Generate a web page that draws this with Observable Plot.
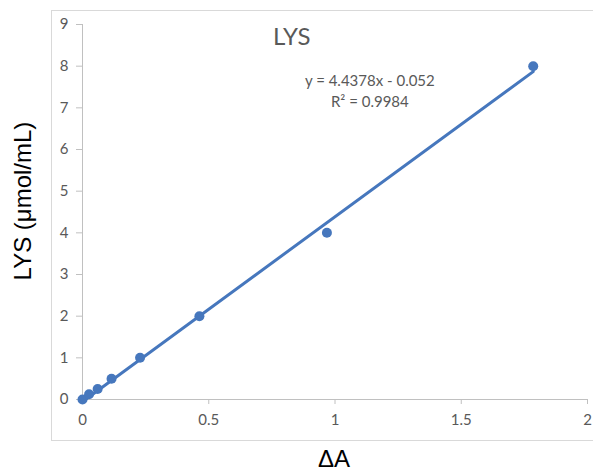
<!DOCTYPE html>
<html><head><meta charset="utf-8">
<script src="https://cdn.jsdelivr.net/npm/d3@7"></script>
<script src="https://cdn.jsdelivr.net/npm/@observablehq/plot@0.6"></script>
<style>
body{margin:0;background:#fff;}
#wrap{position:relative;width:593px;height:474px;overflow:hidden;}
#box{position:absolute;left:51px;top:10px;width:560px;height:431px;border:1px solid #d9d9d9;box-sizing:border-box;}
#ylab{position:absolute;left:23px;top:201px;transform:translate(-50%,-50%) rotate(-90deg);font:24px "Liberation Sans",Arial,sans-serif;line-height:24px;color:#000;white-space:nowrap;}
#xlab{position:absolute;left:334px;top:447px;transform:translateX(-50%);font:24px "Liberation Sans",Arial,sans-serif;line-height:24px;color:#000;white-space:nowrap;}
#chart{position:absolute;left:0;top:0;}
</style></head>
<body>
<div id="wrap"><div id="box"></div><div id="chart"></div>
<div id="ylab">LYS (μmol/mL)</div><div id="xlab">ΔA</div></div>
<script>
const deltaA = [0, 0.026, 0.06, 0.115, 0.228, 0.463, 0.968, 1.785];
const lys = [0, 0.125, 0.25, 0.5, 1, 2, 4, 8];
const xTicks = [0, 0.5, 1, 1.5, 2];
const yTicks = [0, 1, 2, 3, 4, 5, 6, 7, 8, 9];
const slope = 4.4378, intercept = -0.052;
const title = "LYS";
const eqText = ["y = 4.4378x - 0.052", "R² = 0.9984"];

const pts = deltaA.map((x, i) => ({x, y: lys[i]}));
const xr = d3.extent(deltaA);
const trend = xr.map(x => ({x, y: slope * x + intercept}));

const blue = "#4677bd";
const gray = "#595959";
const fontF = "Lato, 'Open Sans', sans-serif";

const chart = Plot.plot({
  width: 593, height: 474,
  marginLeft: 82, marginRight: 6, marginTop: 24, marginBottom: 75,
  x: {domain: [0, 2]},
  y: {domain: [0, 9]},
  style: {fontFamily: fontF, background: "transparent"},
  marks: [
    Plot.ruleY([0], {stroke: "#c0c0c0", strokeWidth: 1}),
    Plot.ruleX([0], {stroke: "#c0c0c0", strokeWidth: 1}),
    Plot.axisX({ticks: xTicks, tickFormat: d => String(d), tickSize: 5, tickPadding: 10, stroke: "#c0c0c0", color: gray, fontSize: 15, label: null}),
    Plot.axisY({ticks: yTicks, tickFormat: d => String(d), tickSize: 6, tickPadding: 8, stroke: "#c0c0c0", color: gray, fontSize: 15, label: null}),
    Plot.line(trend, {x: "x", y: "y", stroke: blue, strokeWidth: 3}),
    Plot.dot(pts, {x: "x", y: "y", r: 5, fill: blue, stroke: null}),
    Plot.text([title], {x: 0.829, y: 8.7, text: d => d, fontSize: 24, fill: gray}),
    Plot.text([eqText[0]], {x: 1.138, y: 7.64, text: d => d, fontSize: 15, fill: gray}),
    Plot.text([eqText[1]], {x: 1.138, y: 7.14, text: d => d, fontSize: 15, fill: gray})
  ]
});
document.getElementById("chart").appendChild(chart);
</script>
</body></html>
